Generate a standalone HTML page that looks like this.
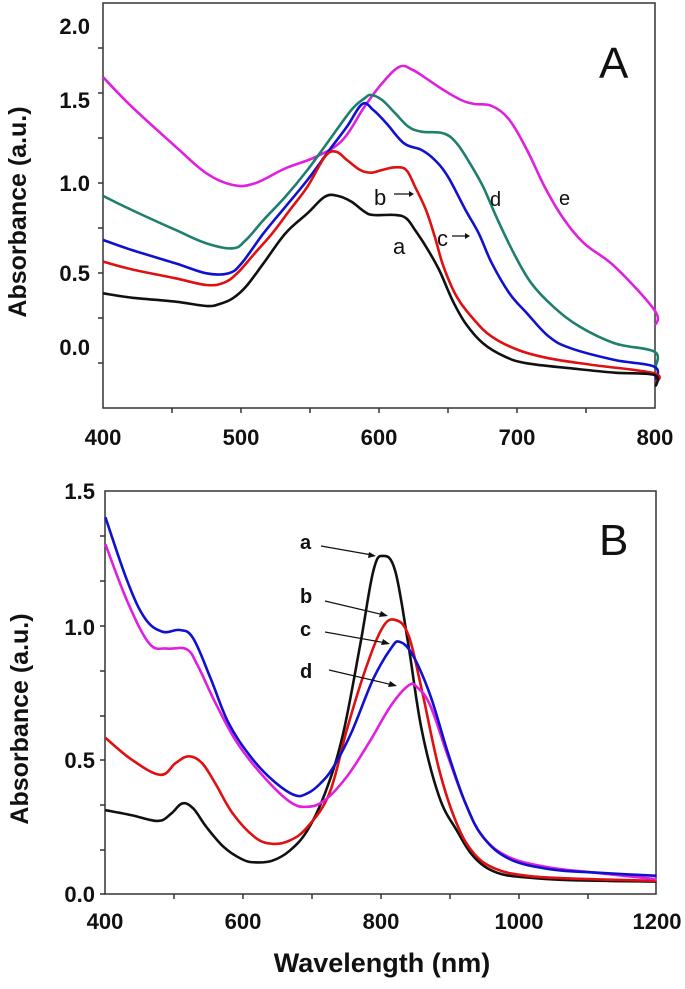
<!DOCTYPE html>
<html><head><style>
html,body{margin:0;padding:0;background:#fff;}
svg{display:block;}
text{font-family:"Liberation Sans",sans-serif;font-weight:bold;fill:#111;}
</style></head><body>
<svg width="685" height="989" viewBox="0 0 685 989" xmlns="http://www.w3.org/2000/svg">
<g fill="none" stroke="#333" stroke-width="1.5">
<rect x="103" y="3" width="552" height="405"/>
<path d="M103,48h-5M103,93h-5M103,138h-5M103,183h-5M103,228h-5M103,273h-5M103,318h-5M103,363h-5"/>
<path d="M172,408v5M241,408v5M310,408v5M379,408v5M448,408v5M517,408v5M586,408v5"/>
</g>
<g transform="scale(0.43917,0.33333)" fill="none" stroke-width="2.6" stroke-linejoin="round">
<path class="s" vector-effect="non-scaling-stroke" stroke="#e020e0" d="M235,232 L300,320 L400,440 L470,520 L530,555 L580,550 L650,505 L720,470 L780,420 L830,320 L870,250 L910,200 L940,210 L970,235 L1010,270 L1050,300 L1080,312 L1120,318 L1160,360 L1200,450 L1240,560 L1280,650 L1330,730 L1400,800 L1490,930 L1493,975"/>
<path class="s" vector-effect="non-scaling-stroke" stroke="#1f7f6f" d="M235,588 L300,630 L400,690 L470,730 L530,745 L560,720 L600,660 L650,590 L700,510 L750,420 L800,330 L830,295 L845,285 L870,300 L900,340 L930,380 L960,395 L1010,400 L1040,430 L1070,490 L1100,560 L1130,650 L1170,760 L1210,850 L1260,920 L1320,980 L1400,1030 L1490,1055 L1493,1100"/>
<path class="s" vector-effect="non-scaling-stroke" stroke="#1010d0" d="M235,720 L300,750 L400,790 L470,820 L520,820 L550,790 L600,700 L650,620 L700,540 L750,450 L790,380 L825,312 L850,330 L880,370 L920,430 L960,450 L990,480 L1020,530 L1060,630 L1090,700 L1120,790 L1160,880 L1200,940 L1250,1010 L1300,1045 L1400,1080 L1490,1100 L1493,1140"/>
<path class="s" vector-effect="non-scaling-stroke" stroke="#e01010" d="M235,785 L300,808 L400,835 L470,855 L510,848 L540,820 L580,760 L620,700 L660,630 L700,560 L740,470 L765,455 L790,480 L820,510 L845,518 L870,510 L900,502 L925,510 L945,560 L970,630 L990,710 L1010,800 L1040,890 L1080,960 L1120,1010 L1180,1050 L1250,1075 L1350,1095 L1490,1120 L1493,1150"/>
<path class="s" vector-effect="non-scaling-stroke" stroke="#111" d="M235,880 L300,893 L400,905 L470,918 L500,912 L530,895 L560,860 L600,790 L650,700 L700,640 L740,590 L770,588 L800,605 L830,635 L850,645 L900,645 L925,655 L945,690 L970,740 L1000,810 L1030,900 L1060,970 L1100,1030 L1150,1070 L1200,1090 L1300,1105 L1400,1118 L1490,1125 L1493,1160"/>
</g>
<g font-size="22" text-anchor="end">
<text x="90" y="34">2.0</text><text x="90" y="108">1.5</text><text x="90" y="191">1.0</text><text x="90" y="281">0.5</text><text x="90" y="355">0.0</text>
</g>
<g font-size="22" text-anchor="middle">
<text x="103" y="445">400</text><text x="241" y="445">500</text><text x="379" y="445">600</text><text x="517" y="445">700</text><text x="655" y="445">800</text>
</g>
<text transform="translate(26,212) rotate(-90)" font-size="25" text-anchor="middle">Absorbance (a.u.)</text>
<text x="599" y="78" font-size="44" style="font-weight:normal">A</text>
<text x="374" y="205" font-size="22" style="font-weight:normal">b</text>
<text x="393" y="254" font-size="22" style="font-weight:normal">a</text>
<text x="437" y="246" font-size="22" style="font-weight:normal">c</text>
<text x="490" y="206" font-size="20" style="font-weight:normal">d</text>
<text x="559" y="205" font-size="20" style="font-weight:normal">e</text>
<path d="M394,194h16M452,236h14" stroke="#111" stroke-width="1.2"/>
<path d="M414,194l-5,-3v6zM470,236l-5,-3v6z" fill="#111"/>

<g fill="none" stroke="#333" stroke-width="1.5">
<rect x="105" y="491" width="551" height="403"/>
<path d="M105,536h-5M105,581h-5M105,626h-5M105,671h-5M105,716h-5M105,760h-5M105,805h-5M105,850h-5M105,894h-5"/>
<path d="M174,894v5M243,894v5M312,894v5M381,894v5M450,894v5M519,894v5M588,894v5"/>
</g>
<g transform="translate(0,460) scale(0.43917,0.3367)" fill="none" stroke-width="2.6" stroke-linejoin="round">
<path class="s" vector-effect="non-scaling-stroke" stroke="#111" d="M240,1040 L300,1055 L360,1072 L390,1050 L415,1020 L440,1035 L470,1090 L510,1150 L550,1185 L580,1195 L620,1190 L660,1160 L700,1100 L740,990 L780,820 L820,550 L850,330 L872,285 L900,330 L930,550 L960,800 L1000,1000 L1040,1100 L1080,1180 L1130,1225 L1200,1240 L1300,1248 L1495,1252"/>
<path class="s" vector-effect="non-scaling-stroke" stroke="#e01010" d="M240,825 L300,890 L365,935 L400,900 L430,880 L460,900 L490,960 L530,1050 L580,1120 L620,1140 L660,1130 L700,1090 L750,990 L790,800 L830,630 L870,500 L900,475 L930,520 L960,680 L1000,920 L1040,1080 L1080,1170 L1130,1215 L1200,1235 L1300,1243 L1495,1250"/>
<path class="s" vector-effect="non-scaling-stroke" stroke="#e020e0" d="M240,250 L290,420 L340,545 L380,560 L425,562 L450,610 L490,720 L540,840 L600,940 L660,1015 L700,1030 L740,1010 L790,940 L840,840 L890,730 L930,670 L950,675 L980,730 L1020,880 L1060,1020 L1100,1120 L1160,1180 L1250,1210 L1350,1225 L1495,1245"/>
<path class="s" vector-effect="non-scaling-stroke" stroke="#1010d0" d="M240,170 L290,360 L330,470 L370,510 L410,505 L440,530 L480,650 L520,780 L570,880 L620,950 L670,995 L700,990 L730,960 L760,910 L800,810 L850,650 L890,560 L910,540 L940,580 L980,700 L1020,870 L1060,1020 L1100,1120 L1160,1185 L1250,1215 L1350,1225 L1495,1235"/>
</g>
<g font-size="22" text-anchor="end">
<text x="95" y="499">1.5</text><text x="95" y="635">1.0</text><text x="95" y="768">0.5</text><text x="95" y="902">0.0</text>
</g>
<g font-size="22" text-anchor="middle">
<text x="105" y="929">400</text><text x="243" y="929">600</text><text x="381" y="929">800</text><text x="519" y="929">1000</text><text x="657" y="929">1200</text>
</g>
<text transform="translate(28,719) rotate(-90)" font-size="25" text-anchor="middle">Absorbance (a.u.)</text>
<text x="382" y="972" font-size="27" text-anchor="middle">Wavelength (nm)</text>
<text x="599" y="555" font-size="44" style="font-weight:normal">B</text>
<g font-size="20">
<text x="300" y="549">a</text><text x="300" y="603">b</text><text x="300" y="636">c</text><text x="300" y="678">d</text>
</g>
<g stroke="#111" stroke-width="1.2">
<path d="M321,546L372,555M325,601L384,615M325,632L386,643M329,670L393,685"/>
</g>
<g fill="#111">
<path d="M376,556l-7,-4l-1,6zM388,616l-7,-5l-2,6zM390,644l-7,-5l-2,6zM397,686l-7,-5l-2,6z"/>
</g>
</svg>
<script>
document.querySelectorAll('path.s').forEach(function(p){
  var nums=p.getAttribute('d').match(/-?\d+(\.\d+)?/g).map(Number);
  var pts=[];for(var i=0;i<nums.length;i+=2)pts.push([nums[i],nums[i+1]]);
  var d='M'+pts[0][0]+','+pts[0][1];
  for(var i=0;i<pts.length-1;i++){
    var p0=pts[Math.max(i-1,0)],p1=pts[i],p2=pts[i+1],p3=pts[Math.min(i+2,pts.length-1)];
    var t=0.18;
    var c1x=p1[0]+(p2[0]-p0[0])*t,c1y=p1[1]+(p2[1]-p0[1])*t;
    var c2x=p2[0]-(p3[0]-p1[0])*t,c2y=p2[1]-(p3[1]-p1[1])*t;
    d+=' C'+c1x.toFixed(1)+','+c1y.toFixed(1)+' '+c2x.toFixed(1)+','+c2y.toFixed(1)+' '+p2[0]+','+p2[1];
  }
  p.setAttribute('d',d);
});
</script>
</body></html>
